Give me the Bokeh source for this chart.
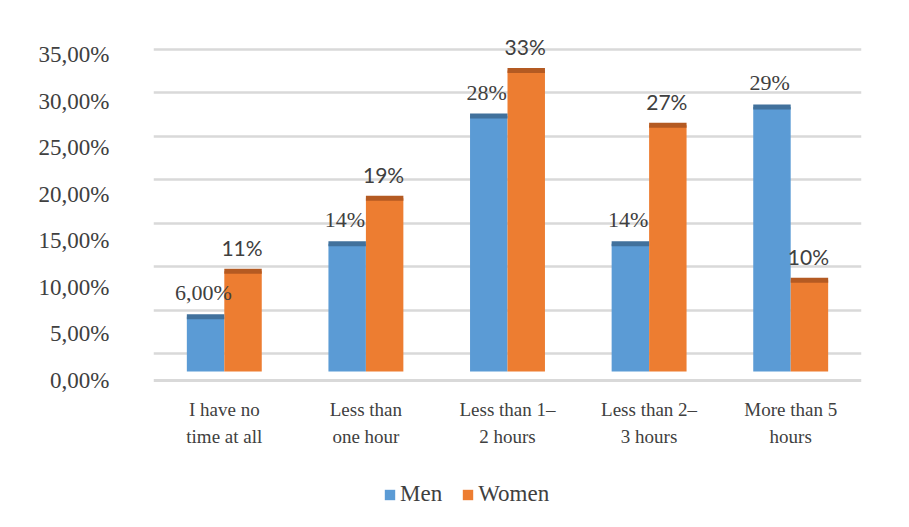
from bokeh.plotting import figure
from bokeh.layouts import column
from bokeh.models import (ColumnDataSource, FactorRange, Range1d, LinearAxis, Grid,
                          FixedTicker, CustomJSTickFormatter, Legend, LegendItem, Span)
from bokeh.transform import dodge
from bokeh.core.properties import value
from bokeh.embed import file_html
from bokeh.resources import INLINE

# ---- data ----
categories = ["I have no\ntime at all", "Less than\none hour", "Less than 1\u2013\n2 hours",
              "Less than 2\u2013\n3 hours", "More than 5\nhours"]
men = [6, 14, 28, 14, 29]
women = [11, 19, 33, 27, 10]
men_labels = ["6,00%", "14%", "28%", "14%", "29%"]
women_labels = ["11%", "19%", "33%", "27%", "10%"]
y_ticks = [0, 5, 10, 15, 20, 25, 30, 35]
series = ["Men", "Women"]

BLUE = "#5B9BD5"
ORANGE = "#ED7D31"
BLUE_DARK = "#41719C"
ORANGE_DARK = "#B45A22"
TXT = "#404040"
SERIF = "Liberation Serif"

src = ColumnDataSource(dict(cat=categories, men=men, women=women,
                            men_labels=men_labels, women_labels=women_labels))

p = figure(width=909, height=470, x_range=FactorRange(*categories),
           y_range=Range1d(-1.535, 38.48), output_backend="svg", toolbar_location=None,
           min_border_left=153, min_border_right=48, min_border_top=20, min_border_bottom=85,
           y_axis_location=None)
p.outline_line_color = None
p.background_fill_color = "white"
p.border_fill_color = "white"
p.xgrid.visible = False
p.ygrid.visible = False

p.extra_y_ranges = {"lab": Range1d(-0.537, 38.65), "grid": Range1d(-3.684, 38.34)}

# back-wall grid
p.add_layout(Grid(dimension=1, ticker=FixedTicker(ticks=y_ticks), y_range_name="grid",
                  grid_line_color="#d9d9d9", grid_line_width=2.5))
# floor front line
p.add_layout(Span(location=0, dimension="width", y_range_name="lab",
                  line_color="#d9d9d9", line_width=3))

# y axis
yax = LinearAxis(y_range_name="lab", ticker=FixedTicker(ticks=y_ticks),
                 formatter=CustomJSTickFormatter(code="return tick.toFixed(2).replace('.', ',') + '%';"))
yax.axis_line_color = None
yax.major_tick_line_color = None
yax.minor_tick_line_color = None
yax.major_label_standoff = 38
yax.major_label_text_font = SERIF
yax.major_label_text_font_size = "23px"
yax.major_label_text_color = TXT
p.add_layout(yax, "left")

# x axis
xax = p.xaxis[0]
xax.axis_line_color = None
xax.major_tick_line_color = None
xax.minor_tick_line_color = None
xax.major_label_standoff = 7
xax.major_label_text_font = SERIF
xax.major_label_text_font_size = "19px"
xax.major_label_text_color = TXT
xax.major_label_text_line_height = 1.3

bw = 0.2645
off = 0.1323
p.vbar(x=dodge("cat", -off, range=p.x_range), top="men", width=bw, source=src,
       fill_color=BLUE, line_color=None)
p.vbar(x=dodge("cat", off, range=p.x_range), top="women", width=bw, source=src,
       fill_color=ORANGE, line_color=None)
# darker top caps (3-D look)
p.segment(x0=dodge("cat", -off - bw / 2, range=p.x_range), x1=dodge("cat", -off + bw / 2, range=p.x_range),
          y0="men", y1="men", source=src, line_color=BLUE_DARK, line_width=5, line_cap="butt")
p.segment(x0=dodge("cat", off - bw / 2, range=p.x_range), x1=dodge("cat", off + bw / 2, range=p.x_range),
          y0="women", y1="women", source=src, line_color=ORANGE_DARK, line_width=5, line_cap="butt")

p.text(x=dodge("cat", -0.148, range=p.x_range), y="men", text="men_labels", source=src,
       text_align="center", text_baseline="middle", y_offset=-24,
       text_font=value(SERIF), text_font_size="22px", text_color=TXT)
p.text(x=dodge("cat", 0.125, range=p.x_range), y="women", text="women_labels", source=src,
       text_align="center", text_baseline="middle", y_offset=-24,
       text_font=value("Lato"), text_font_size="21px", text_color=TXT)

# ---- legend strip ----
lsrc = ColumnDataSource(dict(x=[0.5], top=[0]))
p2 = figure(width=909, height=57, x_range=Range1d(0, 1), y_range=Range1d(0, 1),
            output_backend="svg", toolbar_location=None,
            x_axis_location=None, y_axis_location=None,
            min_border_left=0, min_border_right=0, min_border_top=0, min_border_bottom=0)
p2.outline_line_color = None
p2.grid.visible = False
lm = p2.vbar(x="x", top="top", width=0.01, source=lsrc, fill_color=BLUE, line_color=None)
lw = p2.vbar(x="x", top="top", width=0.01, source=lsrc, fill_color=ORANGE, line_color=None)

legend = Legend(items=[LegendItem(label=series[0], renderers=[lm]),
                       LegendItem(label=series[1], renderers=[lw])],
                orientation="horizontal", location=(230, 20))
legend.padding = 0
legend.margin = 0
legend.spacing = 19
legend.glyph_width = 13
legend.glyph_height = 13
legend.label_standoff = 4
legend.label_height = 13
legend.label_text_font = SERIF
legend.label_text_font_size = "23px"
legend.label_text_color = TXT
legend.border_line_color = None
legend.background_fill_alpha = 0
p2.add_layout(legend, "center")

layout = column(p, p2, spacing=0)
open("out.html", "w").write(file_html(layout, INLINE))
